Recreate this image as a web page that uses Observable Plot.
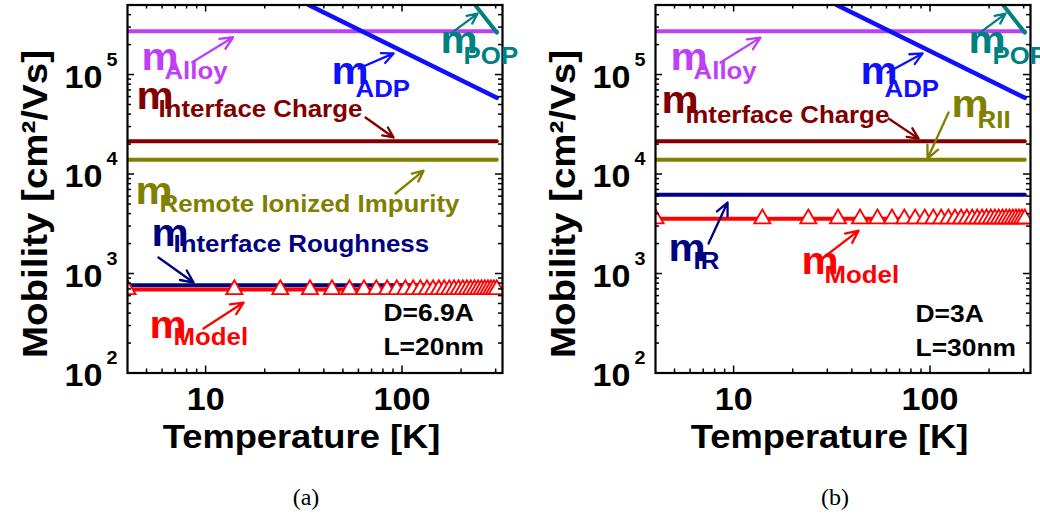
<!DOCTYPE html>
<html><head><meta charset="utf-8">
<script src="https://cdn.jsdelivr.net/npm/d3@7"></script>
<script src="https://cdn.jsdelivr.net/npm/@observablehq/plot@0.6"></script>
<style>
body{margin:0;background:#fff;overflow:hidden;}
#wrap{display:flex;width:1040px;}
.panel{width:520px;overflow:hidden;}
.panel svg{display:block;}
.cap{font-family:"Liberation Serif","Times New Roman",serif;font-size:24px;line-height:28px;margin-top:13px;text-align:center;}
</style></head><body>
<div id="wrap">
  <div class="panel"><div id="pa"></div><div class="cap" style="padding-left:92px">(a)</div></div>
  <div class="panel"><div id="pb"></div><div class="cap" style="padding-left:110px">(b)</div></div>
</div>
<script>
// ---------------- data ----------------
const lineTemps = [4, 304];
const modelTemps = [4,14,24,34,44,54,64,74,84,94,104,114,124,134,144,154,164,174,184,194,204,214,224,234,244,254,264,274,284,294,304];
const adpTemps = [33.5, 304];
const adpMobility = [5.0e5, 5.83e4];
const popTemps = [232, 304];
const popMobility = [5.2e5, 2.64e5];

const alloyMobilityA = [2.72e5, 2.72e5];
const chargeMobilityA = [2.14e4, 2.14e4];
const riiMobilityA = [1.39e4, 1.39e4];
const roughMobilityA = [763, 763];
const modelMobilityA = [690,690,690,690,690,690,690,690,690,690,690,690,690,690,690,690,690,690,690,690,690,690,690,690,690,690,690,690,690,690,690];

const alloyMobilityB = [2.72e5, 2.72e5];
const chargeMobilityB = [2.14e4, 2.14e4];
const riiMobilityB = [1.39e4, 1.39e4];
const roughMobilityB = [6180, 6180];
const modelMobilityB = [3550,3550,3550,3550,3550,3550,3550,3550,3550,3550,3550,3550,3550,3550,3550,3550,3550,3550,3550,3550,3550,3550,3550,3550,3550,3550,3550,3550,3550,3550,3550];

const tempMajor = [10, 100];
const tempMinor = [5,6,7,8,9,20,30,40,50,60,70,80,90,200,300];
const muMajor = [1e2, 1e3, 1e4, 1e5];
const muExponent = ["2", "3", "4", "5"];
const muMinor = [200,300,400,500,600,700,800,900,2000,3000,4000,5000,6000,7000,8000,9000,2e4,3e4,4e4,5e4,6e4,7e4,8e4,9e4,2e5,3e5,4e5];

const xTitle = "Temperature [K]";
const yTitle = "Mobility [cm\u00b2/Vs]";

// colours
const cAlloy = "#bf3ff5", cADP = "#1010ff", cPOP = "#008080", cCharge = "#800000",
      cRII = "#808000", cRough = "#000080", cModel = "#ff0000";

// annotation placements (data units)
const labelsA = [
  {sub:"Alloy", color:cAlloy, mT:4.83, mMu:1.10e5, sT:6.17, sMu:9.12e4, t1:8.54, u1:1.33e5, t2:13.8, u2:2.37e5},
  {sub:"ADP", color:cADP, mT:44.8, mMu:8.12e4, sT:58.0, sMu:6.01e4, t1:60.1, u1:1.15e5, t2:90.6, u2:1.63e5},
  {sub:"POP", color:cPOP, mT:161, mMu:1.63e5, sT:206, sMu:1.29e5, t1:176.8, u1:2.58e5, t2:242.7, u2:4.10e5},
  {sub:"Interface Charge", color:cCharge, mT:4.55, mMu:4.55e4, sT:5.75, sMu:3.70e4, t1:65.2, u1:3.70e4, t2:90.6, u2:2.33e4},
  {sub:"Remote Ionized Impurity", color:cRII, mT:4.50, mMu:5.05e3, sT:5.82, sMu:4.20e3, t1:92.7, u1:6.37e3, t2:128.8, u2:1.08e4},
  {sub:"Interface Roughness", color:cRough, mT:5.43, mMu:1.91e3, sT:6.86, sMu:1.63e3, t1:5.75, u1:1.45e3, t2:8.68, u2:812},
  {sub:"Model", color:cModel, mT:5.30, mMu:227, sT:6.86, sMu:189, t1:9.75, u1:280, t2:15.6, u2:511}
];
const labelsB = [
  {sub:"Alloy", color:cAlloy, mT:4.88, mMu:1.10e5, sT:6.25, sMu:9.12e4, t1:8.57, u1:1.32e5, t2:13.7, u2:2.35e5},
  {sub:"ADP", color:cADP, mT:45.3, mMu:8.12e4, sT:58.7, sMu:6.01e4, t1:60.8, u1:1.05e5, t2:91.7, u2:1.63e5},
  {sub:"POP", color:cPOP, mT:161, mMu:1.63e5, sT:208, sMu:1.29e5, t1:176.8, u1:2.58e5, t2:242.7, u2:4.10e5},
  {sub:"Interface Charge", color:cCharge, mT:4.39, mMu:4.06e4, sT:5.68, sMu:3.29e4, t1:61.5, u1:3.61e4, t2:87.5, u2:2.27e4},
  {sub:"RII", color:cRII, mT:131.8, mMu:3.70e4, sT:174.7, sMu:2.93e4, t1:124.3, u1:4.16e4, t2:97.2, u2:1.43e4},
  {sub:"IR", color:cRough, mT:4.77, mMu:1.35e3, sT:6.25, sMu:1.12e3, t1:7.45, u1:2.00e3, t2:9.31, u2:5.17e3},
  {sub:"Model", color:cModel, mT:22.7, mMu:1.0e3, sT:29.0, sMu:812, t1:28.7, u1:1.45e3, t2:43.3, u2:2.70e3}
];
const notesA = [{label:"D=6.9A", T:80.5, mu:337}, {label:"L=20nm", T:80.5, mu:150}];
const notesB = [{label:"D=3A", T:84.4, mu:322}, {label:"L=30nm", T:84.4, mu:147}];

// ---------------- drawing ----------------
const FONT = "'Liberation Sans', Arial, sans-serif";
const W = 520, H = 470, MT = 4.5, MB = 97.5;
const FH = H - MT - MB;

function rows(ts, us) { return ts.map((t, i) => ({T: t, mu: us[i]})); }

function stretch(svg, s) {
  svg.querySelectorAll("text").forEach(t => {
    const tr = t.getAttribute("transform");
    if (tr) t.setAttribute("transform", tr + ` scale(${s},1)`);
    else {
      const x = +t.getAttribute("x") || 0, y = +t.getAttribute("y") || 0;
      t.setAttribute("transform", `translate(${x},${y}) scale(${s},1) translate(${-x},${-y})`);
    }
  });
}

function panel(el, ml, mr, series, modelMu, labels, notes) {
  const FW = W - ml - mr;
  const marks = [];
  for (const s of series) {
    marks.push(Plot.line(rows(s.T, s.mu), {x:"T", y:"mu", stroke:s.color, strokeWidth:s.w, clip:true}));
  }
  marks.push(Plot.line(rows(modelTemps, modelMu), {x:"T", y:"mu", stroke:cModel, strokeWidth:4, clip:true}));
  marks.push(Plot.dot(rows(modelTemps, modelMu), {x:"T", y:"mu", symbol:"triangle", r:6, fill:"white", stroke:cModel, strokeWidth:1.8, clip:true}));
  // ticks inward on all four sides
  const tk = {stroke:"black", strokeWidth:1.5};
  marks.push(Plot.tickX(tempMajor, {x:d=>d, insetTop:FH-7, ...tk}));
  marks.push(Plot.tickX(tempMajor, {x:d=>d, insetBottom:FH-7, ...tk}));
  marks.push(Plot.tickX(tempMinor, {x:d=>d, insetTop:FH-4, ...tk}));
  marks.push(Plot.tickX(tempMinor, {x:d=>d, insetBottom:FH-4, ...tk}));
  marks.push(Plot.tickY(muMajor, {y:d=>d, insetRight:FW-7, ...tk}));
  marks.push(Plot.tickY(muMajor, {y:d=>d, insetLeft:FW-7, ...tk}));
  marks.push(Plot.tickY(muMinor, {y:d=>d, insetRight:FW-4, ...tk}));
  marks.push(Plot.tickY(muMinor, {y:d=>d, insetLeft:FW-4, ...tk}));
  marks.push(Plot.frame({stroke:"black", strokeWidth:2.2}));
  // tick labels
  const tf = {fontFamily:FONT, fontWeight:"bold", fill:"black"};
  marks.push(Plot.text(tempMajor, {x:d=>d, text:d=>String(d), frameAnchor:"bottom", textAnchor:"middle", lineAnchor:"bottom", dy:36.5, fontSize:31, ...tf}));
  marks.push(Plot.text(muMajor, {y:d=>d, text:()=>"10", frameAnchor:"left", textAnchor:"end", lineAnchor:"bottom", dx:-25, dy:13, fontSize:31, ...tf}));
  marks.push(Plot.text(muMajor, {y:d=>d, text:(d,i)=>muExponent[i], frameAnchor:"left", textAnchor:"end", lineAnchor:"bottom", dx:-10, dy:-9, fontSize:18, ...tf}));
  // axis titles
  marks.push(Plot.text([xTitle], {text:d=>d, frameAnchor:"bottom", textAnchor:"middle", lineAnchor:"bottom", dy:74.5, dx:-13.5, fontSize:33, ...tf}));
  marks.push(Plot.text([yTitle], {text:d=>d, frameAnchor:"left", textAnchor:"middle", rotate:-90, lineAnchor:"middle", dx:-92, dy:15, fontSize:35, ...tf}));
  // annotations
  for (const l of labels) {
    marks.push(Plot.arrow([l], {x1:"t1", y1:"u1", x2:"t2", y2:"u2", stroke:l.color, strokeWidth:2.3, headLength:9, headAngle:50}));
    marks.push(Plot.text([l], {x:"mT", y:"mMu", text:()=>"m", textAnchor:"start", lineAnchor:"bottom", dx:-2, fontSize:38, fontFamily:FONT, fontWeight:"bold", fill:l.color}));
    marks.push(Plot.text([l], {x:"sT", y:"sMu", text:"sub", textAnchor:"start", lineAnchor:"bottom", fontSize:23.5, fontFamily:FONT, fontWeight:"bold", fill:l.color}));
  }
  marks.push(Plot.text(notes, {x:"T", y:"mu", text:"label", textAnchor:"start", lineAnchor:"bottom", fontSize:24, ...tf}));

  const svg = Plot.plot({
    width: W, height: H,
    marginLeft: ml, marginRight: mr, marginTop: MT, marginBottom: MB,
    style: {fontFamily: FONT, background: "white"},
    x: {type:"log", domain:[4, 325], axis:null},
    y: {type:"log", domain:[100, 5e5], axis:null},
    marks
  });
  stretch(svg, 1.1);
  document.getElementById(el).appendChild(svg);
}

panel("pa", 127, 18, [
  {T:lineTemps, mu:alloyMobilityA, color:cAlloy, w:4},
  {T:lineTemps, mu:chargeMobilityA, color:cCharge, w:4},
  {T:lineTemps, mu:riiMobilityA, color:cRII, w:4},
  {T:lineTemps, mu:roughMobilityA, color:cRough, w:4},
  {T:adpTemps, mu:adpMobility, color:cADP, w:4.5},
  {T:popTemps, mu:popMobility, color:cPOP, w:4}
], modelMobilityA, labelsA, notesA);

panel("pb", 135, 10, [
  {T:lineTemps, mu:alloyMobilityB, color:cAlloy, w:4},
  {T:lineTemps, mu:chargeMobilityB, color:cCharge, w:4},
  {T:lineTemps, mu:riiMobilityB, color:cRII, w:4},
  {T:lineTemps, mu:roughMobilityB, color:cRough, w:4},
  {T:adpTemps, mu:adpMobility, color:cADP, w:4.5},
  {T:popTemps, mu:popMobility, color:cPOP, w:4}
], modelMobilityB, labelsB, notesB);
</script>
</body></html>
